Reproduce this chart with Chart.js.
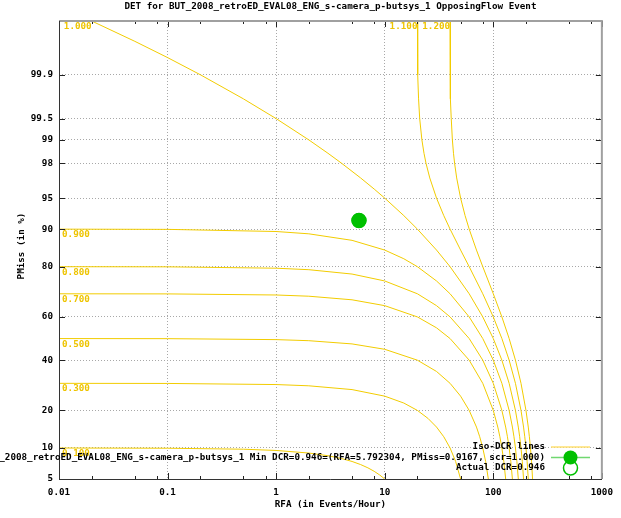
<!DOCTYPE html>
<html><head><meta charset="utf-8">
<script src="https://cdn.jsdelivr.net/npm/chart.js@4.4.0/dist/chart.umd.min.js"></script>
<style>html,body{margin:0;padding:0;background:#fff}#wrap{width:621px;height:518px;position:relative}canvas{display:block}</style>
</head><body><div id="wrap"><canvas id="c" width="621" height="518" style="width:621px;height:518px"></canvas></div>
<script>
// ---------------- data ----------------
const titleText = 'DET for BUT_2008_retroED_EVAL08_ENG_s-camera_p-butsys_1 OpposingFlow Event';
const xAxisTitle = 'RFA (in Events/Hour)';
const yAxisTitle = 'PMiss (in %)';
const xMajorTicks = [0.01, 0.1, 1, 10, 100, 1000];
const xMajorLabels = ['0.01', '0.1', '1', '10', '100', '1000'];
const xMinorTicks = [0.02, 0.05, 0.08, 0.2, 0.5, 0.8, 2, 5, 8, 20, 50, 80, 200, 500, 800];
const yTicks = [5, 10, 20, 40, 60, 80, 90, 95, 98, 99, 99.5, 99.9];
const yTickLabels = ['5', '10', '20', '40', '60', '80', '90', '95', '98', '99', '99.5', '99.9'];
const yRange = [5, 99.99];
const xRange = [0.01, 1000];

const isoLabels = ['0.100', '0.300', '0.500', '0.700', '0.800', '0.900', '1.000', '1.100', '1.200'];
// [RFA, PMiss %]
const iso010 = [[0.01,9.995],[0.1,9.95],[0.5,9.75],[1,9.5],[2,9],[3,8.5],[4,8],[5,7.5],[6,7],[7,6.5],[8,6],[9,5.5],[10,5]];
const iso030 = [[0.01,29.995],[0.1,29.95],[1,29.5],[2,29],[5,27.5],[10,25],[15,22.5],[20,20],[25,17.5],[30,15],[35,12.5],[40,10],[45,7.5],[50,5]];
const iso050 = [[0.01,49.995],[0.1,49.95],[1,49.5],[2,49],[5,47.5],[10,45],[20,40],[30,35],[40,30],[50,25],[60,20],[70,15],[75,12.5],[80,10],[85,7.5],[90,5]];
const iso070 = [[0.01,69.995],[0.1,69.95],[1,69.5],[2,69],[5,67.5],[10,65],[20,60],[30,55],[40,50],[60,40],[80,30],[100,20],[110,15],[115,12.5],[120,10],[125,7.5],[130,5]];
const iso080 = [[0.01,79.995],[0.1,79.95],[1,79.5],[2,79],[5,77.5],[10,75],[20,70],[30,65],[40,60],[60,50],[80,40],[100,30],[120,20],[130,15],[135,12.5],[140,10],[145,7.5],[150,5]];
const iso090 = [[0.01,89.995],[0.1,89.95],[1,89.5],[2,89],[5,87.5],[10,85],[15,82.5],[20,80],[30,75],[40,70],[60,60],[80,50],[100,40],[120,30],[140,20],[150,15],[155,12.5],[160,10],[165,7.5],[170,5]];
const iso100 = [[0.02,99.99],[0.05,99.975],[0.1,99.95],[0.2,99.9],[0.5,99.75],[1,99.5],[2,99],[3,98.5],[4,98],[6,97],[8,96],[10,95],[15,92.5],[20,90],[30,85],[40,80],[60,70],[80,60],[100,50],[120,40],[140,30],[160,20],[170,15],[175,12.5],[180,10],[185,7.5],[190,5]];
const iso110 = [[20.02,99.99],[20.05,99.975],[20.2,99.9],[20.5,99.75],[21,99.5],[22,99],[23,98.5],[24,98],[26,97],[30,95],[35,92.5],[40,90],[50,85],[60,80],[80,70],[100,60],[120,50],[140,40],[160,30],[180,20],[190,15],[195,12.5],[200,10],[205,7.5],[210,5]];
const iso120 = [[40.02,99.99],[40.05,99.975],[40.2,99.9],[40.5,99.75],[41,99.5],[42,99],[43,98.5],[44,98],[46,97],[50,95],[55,92.5],[60,90],[70,85],[80,80],[100,70],[120,60],[140,50],[160,40],[180,30],[200,20],[210,15],[215,12.5],[220,10],[225,7.5],[230,5]];
const isoSeries = [iso010, iso030, iso050, iso070, iso080, iso090, iso100, iso110, iso120];

const minDcrPoint = [5.792304, 91.67];
const actualDcrPoint = [5.792304, 91.67];
const legendLabels = [
  'Iso-DCR lines',
  'BUT_2008_retroED_EVAL08_ENG_s-camera_p-butsys_1 Min DCR=0.946=(RFA=5.792304, PMiss=0.9167, scr=1.000)',
  'Actual DCR=0.946'
];

// ---------------- helpers ----------------
function probit(p) {
  const a=[-3.969683028665376e+01,2.209460984245205e+02,-2.759285104469687e+02,1.383577518672690e+02,-3.066479806614716e+01,2.506628277459239e+00];
  const b=[-5.447609879822406e+01,1.615858368580409e+02,-1.556989798598866e+02,6.680131188771972e+01,-1.328068155288572e+01];
  const c=[-7.784894002430293e-03,-3.223964580411365e-01,-2.400758277161838e+00,-2.549732539343734e+00,4.374664141464968e+00,2.938163982698783e+00];
  const d=[7.784695709041462e-03,3.224671290700398e-01,2.445134137142996e+00,3.754408661907416e+00];
  const pl=0.02425, ph=1-pl; let q, r;
  if (p < pl) { q=Math.sqrt(-2*Math.log(p)); return (((((c[0]*q+c[1])*q+c[2])*q+c[3])*q+c[4])*q+c[5])/((((d[0]*q+d[1])*q+d[2])*q+d[3])*q+1); }
  if (p <= ph) { q=p-0.5; r=q*q; return (((((a[0]*r+a[1])*r+a[2])*r+a[3])*r+a[4])*r+a[5])*q/(((((b[0]*r+b[1])*r+b[2])*r+b[3])*r+b[4])*r+1); }
  q=Math.sqrt(-2*Math.log(1-p)); return -(((((c[0]*q+c[1])*q+c[2])*q+c[3])*q+c[4])*q+c[5])/((((d[0]*q+d[1])*q+d[2])*q+d[3])*q+1);
}
const zp = pct => probit(pct / 100);
const toXY = arr => arr.map(([x, y]) => ({x: x, y: zp(y)}));

const FONT = '"DejaVu Sans Mono", monospace';
const FSIZE = 9.25;
const YELLOW = '#f2cc00';
const YELLOW_TXT = '#eec400';
const GREEN = '#00c000';

const datasets = isoSeries.map((s, i) => ({
  label: 'iso ' + isoLabels[i],
  data: toXY(s),
  showLine: true,
  borderColor: YELLOW,
  borderWidth: 1,
  pointRadius: 0,
  fill: false,
  tension: 0
}));
datasets.push({
  label: 'actual', data: toXY([actualDcrPoint]), showLine: false,
  pointRadius: 7, pointBackgroundColor: 'rgba(0,0,0,0)', pointBorderColor: GREEN, pointBorderWidth: 1.5
});
datasets.push({
  label: 'min', data: toXY([minDcrPoint]), showLine: false,
  pointRadius: 7, pointBackgroundColor: GREEN, pointBorderColor: GREEN, pointBorderWidth: 1
});

const decor = {
  id: 'decor',
  afterDatasetsDraw(chart) {
    const {ctx, chartArea: ca, scales: {x, y}} = chart;
    ctx.save();
    const font = 'bold ' + FSIZE + 'px ' + FONT;
    // iso labels
    ctx.font = font;
    ctx.fillStyle = YELLOW_TXT;
    ctx.textBaseline = 'top';
    isoSeries.forEach((s, i) => {
      const sx = x.getPixelForValue(s[0][0]);
      let sy = Math.max(ca.top, y.getPixelForValue(zp(s[0][1])));
      const w = ctx.measureText(isoLabels[i]).width;
      if (sx - w < ca.left + 3) { ctx.textAlign = 'left'; ctx.fillText(isoLabels[i], ca.left + 3, sy + 1); }
      else { ctx.textAlign = 'right'; ctx.fillText(isoLabels[i], sx, sy + 1); }
    });
    // tick marks
    ctx.strokeStyle = '#222';
    ctx.lineWidth = 1;
    ctx.beginPath();
    const tk = (v, len) => {
      const px = Math.round(x.getPixelForValue(v)) + 0.5;
      ctx.moveTo(px, ca.bottom); ctx.lineTo(px, ca.bottom - len);
      ctx.moveTo(px, ca.top); ctx.lineTo(px, ca.top + len);
    };
    xMajorTicks.forEach(v => tk(v, 6));
    xMinorTicks.forEach(v => tk(v, 3));
    yTicks.forEach(v => {
      const py = Math.round(y.getPixelForValue(zp(v))) + 0.5;
      ctx.moveTo(ca.left, py); ctx.lineTo(ca.left + 6, py);
      ctx.moveTo(ca.right, py); ctx.lineTo(ca.right - 6, py);
    });
    ctx.stroke();
    // borders
    ctx.strokeStyle = '#a0a0a0'; ctx.lineWidth = 2;
    ctx.beginPath();
    ctx.moveTo(ca.left, ca.top); ctx.lineTo(ca.right, ca.top); ctx.lineTo(ca.right, ca.bottom);
    ctx.stroke();
    ctx.strokeStyle = '#333'; ctx.lineWidth = 1;
    ctx.beginPath();
    ctx.moveTo(Math.round(ca.left) + 0.5, ca.top); ctx.lineTo(Math.round(ca.left) + 0.5, Math.round(ca.bottom) + 0.5);
    ctx.lineTo(ca.right, Math.round(ca.bottom) + 0.5);
    ctx.stroke();
    // legend
    const lx0 = 551, lx1 = 590, ltx = 545, rows = [447, 457.5, 468];
    ctx.font = font;
    ctx.fillStyle = '#000';
    ctx.textAlign = 'right';
    ctx.textBaseline = 'middle';
    legendLabels.forEach((t, i) => ctx.fillText(t, ltx, rows[i]));
    ctx.lineWidth = 1.5;
    ctx.strokeStyle = '#ffe070';
    ctx.beginPath(); ctx.moveTo(lx0, rows[0]); ctx.lineTo(lx1, rows[0]); ctx.stroke();
    ctx.strokeStyle = '#70d870';
    ctx.beginPath(); ctx.moveTo(lx0, rows[1]); ctx.lineTo(lx1, rows[1]); ctx.stroke();
    const cx = (lx0 + lx1) / 2;
    ctx.fillStyle = GREEN;
    ctx.beginPath(); ctx.arc(cx, rows[1], 7, 0, Math.PI * 2); ctx.fill();
    ctx.strokeStyle = GREEN; ctx.lineWidth = 1.5;
    ctx.beginPath(); ctx.arc(cx, rows[2], 7, 0, Math.PI * 2); ctx.stroke();
    // titles
    ctx.fillStyle = '#000';
    ctx.textAlign = 'center';
    ctx.textBaseline = 'middle';
    ctx.fillText(titleText, (ca.left + ca.right) / 2, 7);
    ctx.fillText(xAxisTitle, (ca.left + ca.right) / 2, 505);
    ctx.save();
    ctx.translate(22, (ca.top + ca.bottom) / 2 - 4);
    ctx.rotate(-Math.PI / 2);
    ctx.fillText(yAxisTitle, 0, 0);
    ctx.restore();
    ctx.restore();
  }
};

new Chart(document.getElementById('c'), {
  type: 'scatter',
  data: {datasets},
  options: {
    responsive: false,
    maintainAspectRatio: false,
    animation: false,
    devicePixelRatio: 1,
    layout: {padding: {top: 21, right: 19, left: 0, bottom: 0}},
    plugins: {legend: {display: false}, tooltip: {enabled: false}, title: {display: false}},
    scales: {
      x: {
        type: 'logarithmic',
        min: xRange[0], max: xRange[1],
        afterBuildTicks: s => { s.ticks = xMajorTicks.map(v => ({value: v})); },
        afterFit: s => { s.height = 39; },
        ticks: {
          autoSkip: false, maxRotation: 0, padding: 8, color: '#000',
          font: {family: FONT, size: FSIZE, weight: 'bold'},
          callback: (v, i) => xMajorLabels[i]
        },
        grid: {
          drawTicks: false,
          color: c => (c.index === 0 || c.index === xMajorTicks.length - 1) ? 'rgba(0,0,0,0)' : '#a8a8a8',
          lineWidth: 1
        },
        border: {display: false, dash: c => c.type === 'tick' ? [1, 2] : []}
      },
      y: {
        type: 'linear',
        bounds: 'data',
        min: zp(yRange[0]), max: zp(yRange[1]),
        afterBuildTicks: s => { s.ticks = yTicks.map(v => ({value: zp(v)})); },
        afterFit: s => { s.width = 59; },
        ticks: {
          autoSkip: false, padding: 6, color: '#000',
          font: {family: FONT, size: FSIZE, weight: 'bold'},
          callback: (v, i) => yTickLabels[i]
        },
        grid: {
          drawTicks: false,
          color: c => c.index === 0 ? 'rgba(0,0,0,0)' : '#a8a8a8',
          lineWidth: 1
        },
        border: {display: false, dash: c => c.type === 'tick' ? [1, 2] : []}
      }
    }
  },
  plugins: [decor]
});
</script></body></html>
